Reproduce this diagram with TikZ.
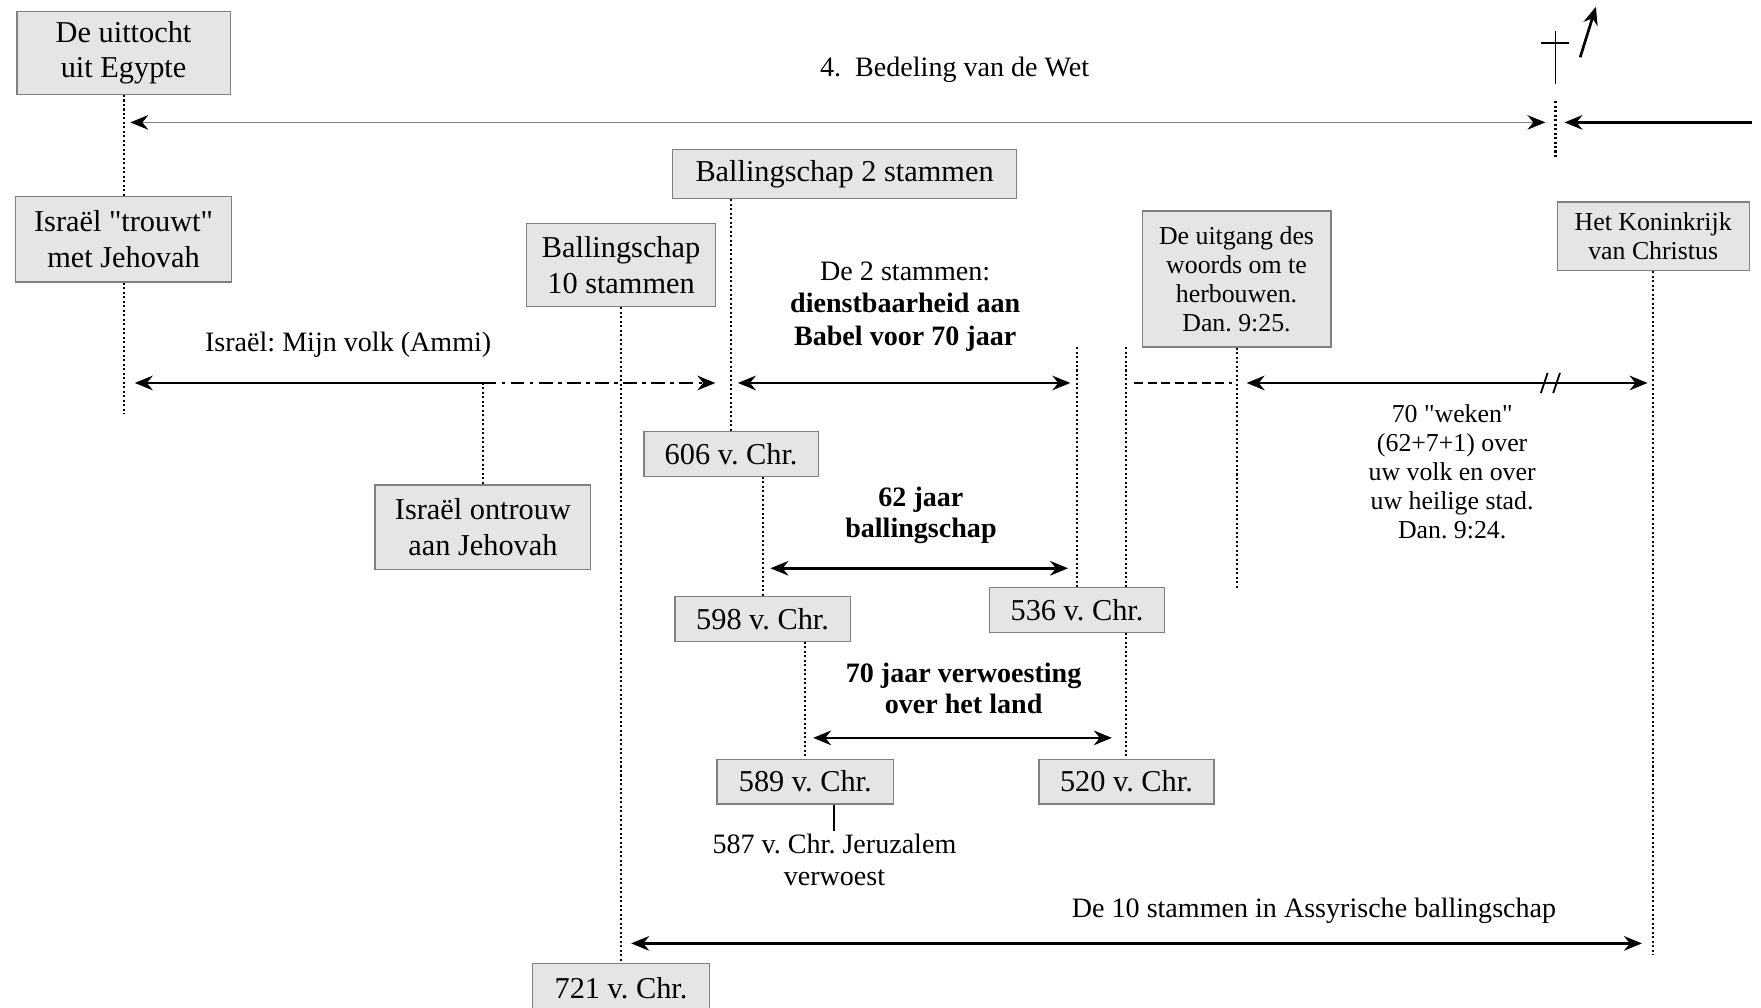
\documentclass[tikz,border=0pt]{standalone}
\usepackage{fontspec}
\setmainfont{Liberation Serif}
\usepackage{tikz}
\usetikzlibrary{arrows.meta}
\usetikzlibrary{positioning}
\frenchspacing

\begin{document}
\begin{tikzpicture}[
		x=0.5pt, y=-0.5pt,
		>={Stealth[length=8pt, width=6.5pt, color=black]},
		every node/.style={font=\fontsize{13.5}{16}\selectfont},
		box/.style={draw=gray, fill=gray!20, line width=0.6pt, inner sep=0pt, align=center},
		smallbox/.style={box, font=\fontsize{11.5}{13}\selectfont},
		note/.style={align=center, inner sep=0pt, font=\fontsize{12.5}{14.5}\selectfont},
		smallnote/.style={align=center, inner sep=0pt, font=\fontsize{11.5}{13}\selectfont},
		boldnote/.style={align=center, inner sep=0pt, font=\fontsize{12.5}{14}\selectfont\bfseries},
		dotline/.style={draw, line width=0.9pt, dash pattern=on 0.9pt off 1.1pt},
		spanline/.style={draw, line width=1.1pt},
		lawline/.style={draw=gray, line width=0.6pt}
	]

	\useasboundingbox (0,0) rectangle (1568,897);

	% Exodus and the law
	\node[box, minimum width=95pt, minimum height=37pt] (uittocht) at (110,47) {De uittocht\\uit Egypte};
	\node[box, minimum width=96pt, minimum height=38pt, below=45pt of uittocht] (trouwt) {Israël \textquotedbl trouwt\textquotedbl\\met Jehovah};
	\node[note] (wet) at (850,62) {4.\ \ Bedeling van de Wet};

	\coordinate (wetL) at (116,109);
	\coordinate (wetR) at (1376,109);
	\coordinate (genadeR) at (1560,109);
	\coordinate (genadeL) at (1393,109);
	\draw[<->, lawline] (wetL) -- (wetR);
	\draw[->, spanline, line width=1.2pt] (genadeR) -- (genadeL);

	% Cross and ascension
	\coordinate (cross) at (1385,28);
	\coordinate (crossTop) at (1385,90);
	\coordinate (crossBot) at (1385,140);
	\draw[line width=0.8pt] (cross) -- ++(0,47);
	\draw[line width=0.8pt] (cross) ++(-13,10) -- ++(25,0);
	\draw[dotline] (crossTop) -- (crossBot);
	\coordinate (ascentFrom) at (1407,51);
	\coordinate (ascentTo) at (1421,6);
	\draw[->, line width=1.2pt] (ascentFrom) -- (ascentTo);

	% Israel, my people
	\coordinate (trouwtEnd) at (110,368);
	\draw[dotline] (uittocht) -- (trouwt);
	\draw[dotline] (trouwt) -- (trouwtEnd);
	\node[note] (ammi) at (310,307) {Israël: Mijn volk (Ammi)};
	\coordinate (ammiL) at (120,341);
	\coordinate (ammiM) at (430,341);
	\coordinate (ammiR) at (637,341);
	\draw[<-, spanline] (ammiL) -- (ammiM);
	\draw[->, spanline, dash pattern=on 6pt off 2.5pt on 1.5pt off 2.5pt] (ammiM) -- (ammiR);
	\node[box, minimum width=96pt, minimum height=37.5pt] (ontrouw) at (430,469.5) {Israël ontrouw\\aan Jehovah};
	\draw[dotline] (ammiM) -- (ontrouw);

	% 10 tribes
	\node[box, minimum width=84pt, minimum height=37pt] (b10) at (553,236) {Ballingschap\\10 stammen};
	\node[box, minimum width=79pt, minimum height=22pt] (y721) at (553,880) {721 v. Chr.};
	\draw[dotline] (b10) -- (y721);
	\node[note] (assyr) at (1170,811) {De 10 stammen in Assyrische ballingschap};
	\coordinate (assyrL) at (562,840);
	\coordinate (assyrR) at (1462,840);
	\draw[<->, spanline] (assyrL) -- (assyrR);

	% 2 tribes
	\node[box, minimum width=153pt, minimum height=22pt] (b2) at (752,155) {Ballingschap 2 stammen};
	\node[box, minimum width=77.5pt, minimum height=20pt] (y606) at (651,404) {606 v. Chr.};
	\draw[dotline] (b2.south -| y606) -- (y606);
	\node[note] (babel) at (806,273) {De 2 stammen:\\\textbf{dienstbaarheid aan}\\\textbf{Babel voor 70 jaar}};
	\coordinate (babelL) at (657,341);
	\coordinate (babelR) at (953,341);
	\draw[<->, spanline] (babelL) -- (babelR);

	\node[box, minimum width=78pt, minimum height=20pt] (y536) at (959,543) {536 v. Chr.};
	\coordinate (y536top) at (959,309);
	\draw[dotline] (y536top) -- (y536);

	\node[box, minimum width=78pt, minimum height=20pt] (y598) at (679,551) {598 v. Chr.};
	\draw[dotline] (y606.south -| y598) -- (y598);
	\node[boldnote] (ballingschap) at (820,459) {62 jaar\\ballingschap};
	\coordinate (ballingL) at (686,506);
	\coordinate (ballingR) at (951,506);
	\draw[<->, spanline] (ballingL) -- (ballingR);

	\node[box, minimum width=78.5pt, minimum height=20pt] (y589) at (717,696) {589 v. Chr.};
	\node[box, minimum width=78pt, minimum height=20pt] (y520) at (1003,696) {520 v. Chr.};
	\draw[dotline] (y598.south -| y589) -- (y589);
	\coordinate (y520top) at (1003,309);
	\draw[dotline] (y520top) -- (y520top |- y536.north);
	\draw[dotline] (y520top |- y536.south) -- (y520);
	\node[boldnote] (verwoesting) at (858,613) {70 jaar verwoesting\\over het land};
	\coordinate (verwL) at (724,657);
	\coordinate (verwR) at (990,657);
	\draw[<->, spanline] (verwL) -- (verwR);

	% Jerusalem destroyed
	\coordinate (jeruz) at (743,740);
	\draw[line width=0.9pt] (y589.south -| jeruz) -- (jeruz);
	\node[note, below=1pt of jeruz] (jeruzalem) {587 v. Chr. Jeruzalem\\verwoest};

	% 70 weeks
	\node[smallbox, minimum width=84pt, minimum height=60.5pt] (uitgang) at (1101,248.5) {De uitgang des\\woords om te\\herbouwen.\\Dan. 9:25.};
	\coordinate (uitgangEnd) at (1101,524);
	\draw[dotline] (uitgang) -- (uitgangEnd);
	\coordinate (dashL) at (1010,341);
	\coordinate (dashR) at (1097,341);
	\draw[spanline, dash pattern=on 4pt off 2pt] (dashL) -- (dashR);
	\coordinate (wekenL) at (1110,341);
	\coordinate (wekenR) at (1467,341);
	\draw[<->, spanline] (wekenL) -- (wekenR);
	\coordinate (breakA) at (1375,341);
	\coordinate (breakB) at (1386,341);
	\draw[line width=0.8pt] (breakA) ++(-3,9) -- ++(6,-18);
	\draw[line width=0.8pt] (breakB) ++(-3,9) -- ++(6,-18);
	\node[smallnote] (weken) at (1293,420) {70 \textquotedbl weken\textquotedbl\\(62+7+1) over\\uw volk en over\\uw heilige stad.\\Dan. 9:24.};

	% Kingdom
	\node[smallbox, minimum width=85.5pt, minimum height=30.5pt] (rijk) at (1472,210.5) {Het Koninkrijk\\van Christus};
	\coordinate (rijkEnd) at (1472,850);
	\draw[dotline] (rijk) -- (rijkEnd);

\end{tikzpicture}
\end{document}
